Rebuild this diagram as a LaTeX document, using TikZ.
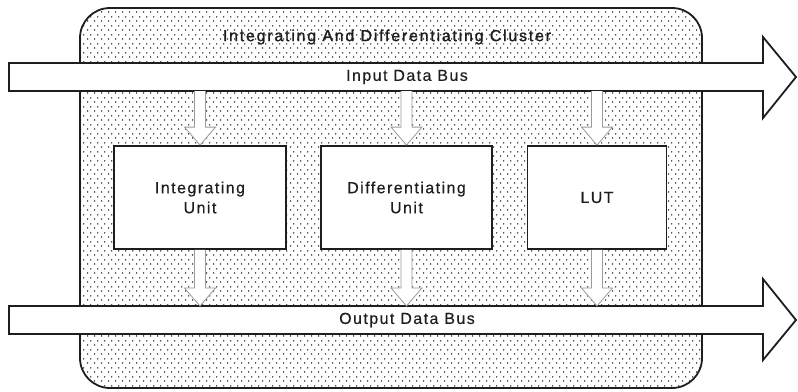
\documentclass[tikz,border=0pt]{standalone}
\usepackage{fontspec}
\setmainfont{Liberation Sans}[LetterSpace=9, FakeBold=0.4]
\newfontfamily\titlefont{Liberation Sans}[LetterSpace=11, FakeBold=1.2]
\usetikzlibrary{patterns.meta,calc}

% staggered dot fill used inside the cluster outline
\tikzdeclarepattern{
  name=clusterdots,
  type=uncolored,
  bounding box={(0pt,0pt) and (6.6pt,9pt)},
  tile size={(6.6pt,9pt)},
  code={
    \pgfpathcircle{\pgfpoint{1.65pt}{2.25pt}}{0.8pt}
    \pgfpathcircle{\pgfpoint{4.95pt}{6.75pt}}{0.8pt}
    \pgfusepath{fill}
  }
}

\definecolor{inkc}{HTML}{1E1E1E}
\definecolor{arrowgray}{HTML}{9A9A9A}

\tikzset{
  cluster/.style={draw=inkc, line width=1.8pt, rounded corners=30pt,
                  pattern={clusterdots}, pattern color=black},
  bus/.style={draw=inkc, line width=1.8pt, fill=white, line join=miter},
  unitbox/.style={draw=inkc, line width=1.8pt, fill=white, minimum width=172pt,
                  minimum height=103pt, inner sep=0pt, align=center,
                  text=inkc, font=\fontsize{16}{20}\selectfont},
  LUTbox/.style={unitbox, minimum width=139pt},
  buslabel/.style={text=inkc, inner sep=0pt, font=\fontsize{16}{19}\selectfont},
  blockarrow/.style={draw=arrowgray, line width=0.8pt, fill=white, line join=miter}
}

% hollow downward block arrow from #1 (top of shaft) to #2 (tip)
\newcommand\blockdown[2]{%
  \draw[blockarrow] let \p1=(#1), \p2=(#2) in
    (\x1-5.5pt,\y1) -- (\x1-5.5pt,\y2+18pt) -- (\x1-15.5pt,\y2+18pt) --
    (\x1,\y2) -- (\x1+15.5pt,\y2+18pt) -- (\x1+5.5pt,\y2+18pt) --
    (\x1+5.5pt,\y1);%
}

\begin{document}
\begin{tikzpicture}[x=1pt,y=-1pt]
\useasboundingbox (0,0) rectangle (798,391);

% cluster outline
\path[cluster] (80,8) rectangle (702,388);
\node[buslabel, font=\titlefont\fontsize{16}{19}\selectfont]
  (title) at (387,37) {Integrating And Differentiating Cluster};

% input and output buses
\draw[bus] (9,63) -- (763,63) -- (763,37) -- (796,77) -- (763,118) -- (763,91) -- (9,91) -- cycle;
\draw[bus] (9,306) -- (763,306) -- (763,279) -- (796,320) -- (763,360) -- (763,334) -- (9,334) -- cycle;
\coordinate (inbot) at (0,91);
\coordinate (outtop) at (0,306);
\node[buslabel] (inbus) at (407,77) {Input Data Bus};
\node[buslabel] (outbus) at (407,320) {Output Data Bus};

% processing units
\node[unitbox] (iu) at (200,197.5) {Integrating\\Unit};
\node[unitbox, minimum width=171pt] (du) at (406.5,197.5) {Differentiating\\Unit};
\node[LUTbox] (lut) at (597,197.5) {LUT};

% data paths between the buses and the units
\foreach \u in {iu,du,lut}{
  \coordinate (\u-in) at (\u.north |- inbot);
  \coordinate (\u-out) at (\u.south |- outtop);
  \blockdown{\u-in}{\u.north}
  \blockdown{\u.south}{\u-out}
}
\end{tikzpicture}
\end{document}
